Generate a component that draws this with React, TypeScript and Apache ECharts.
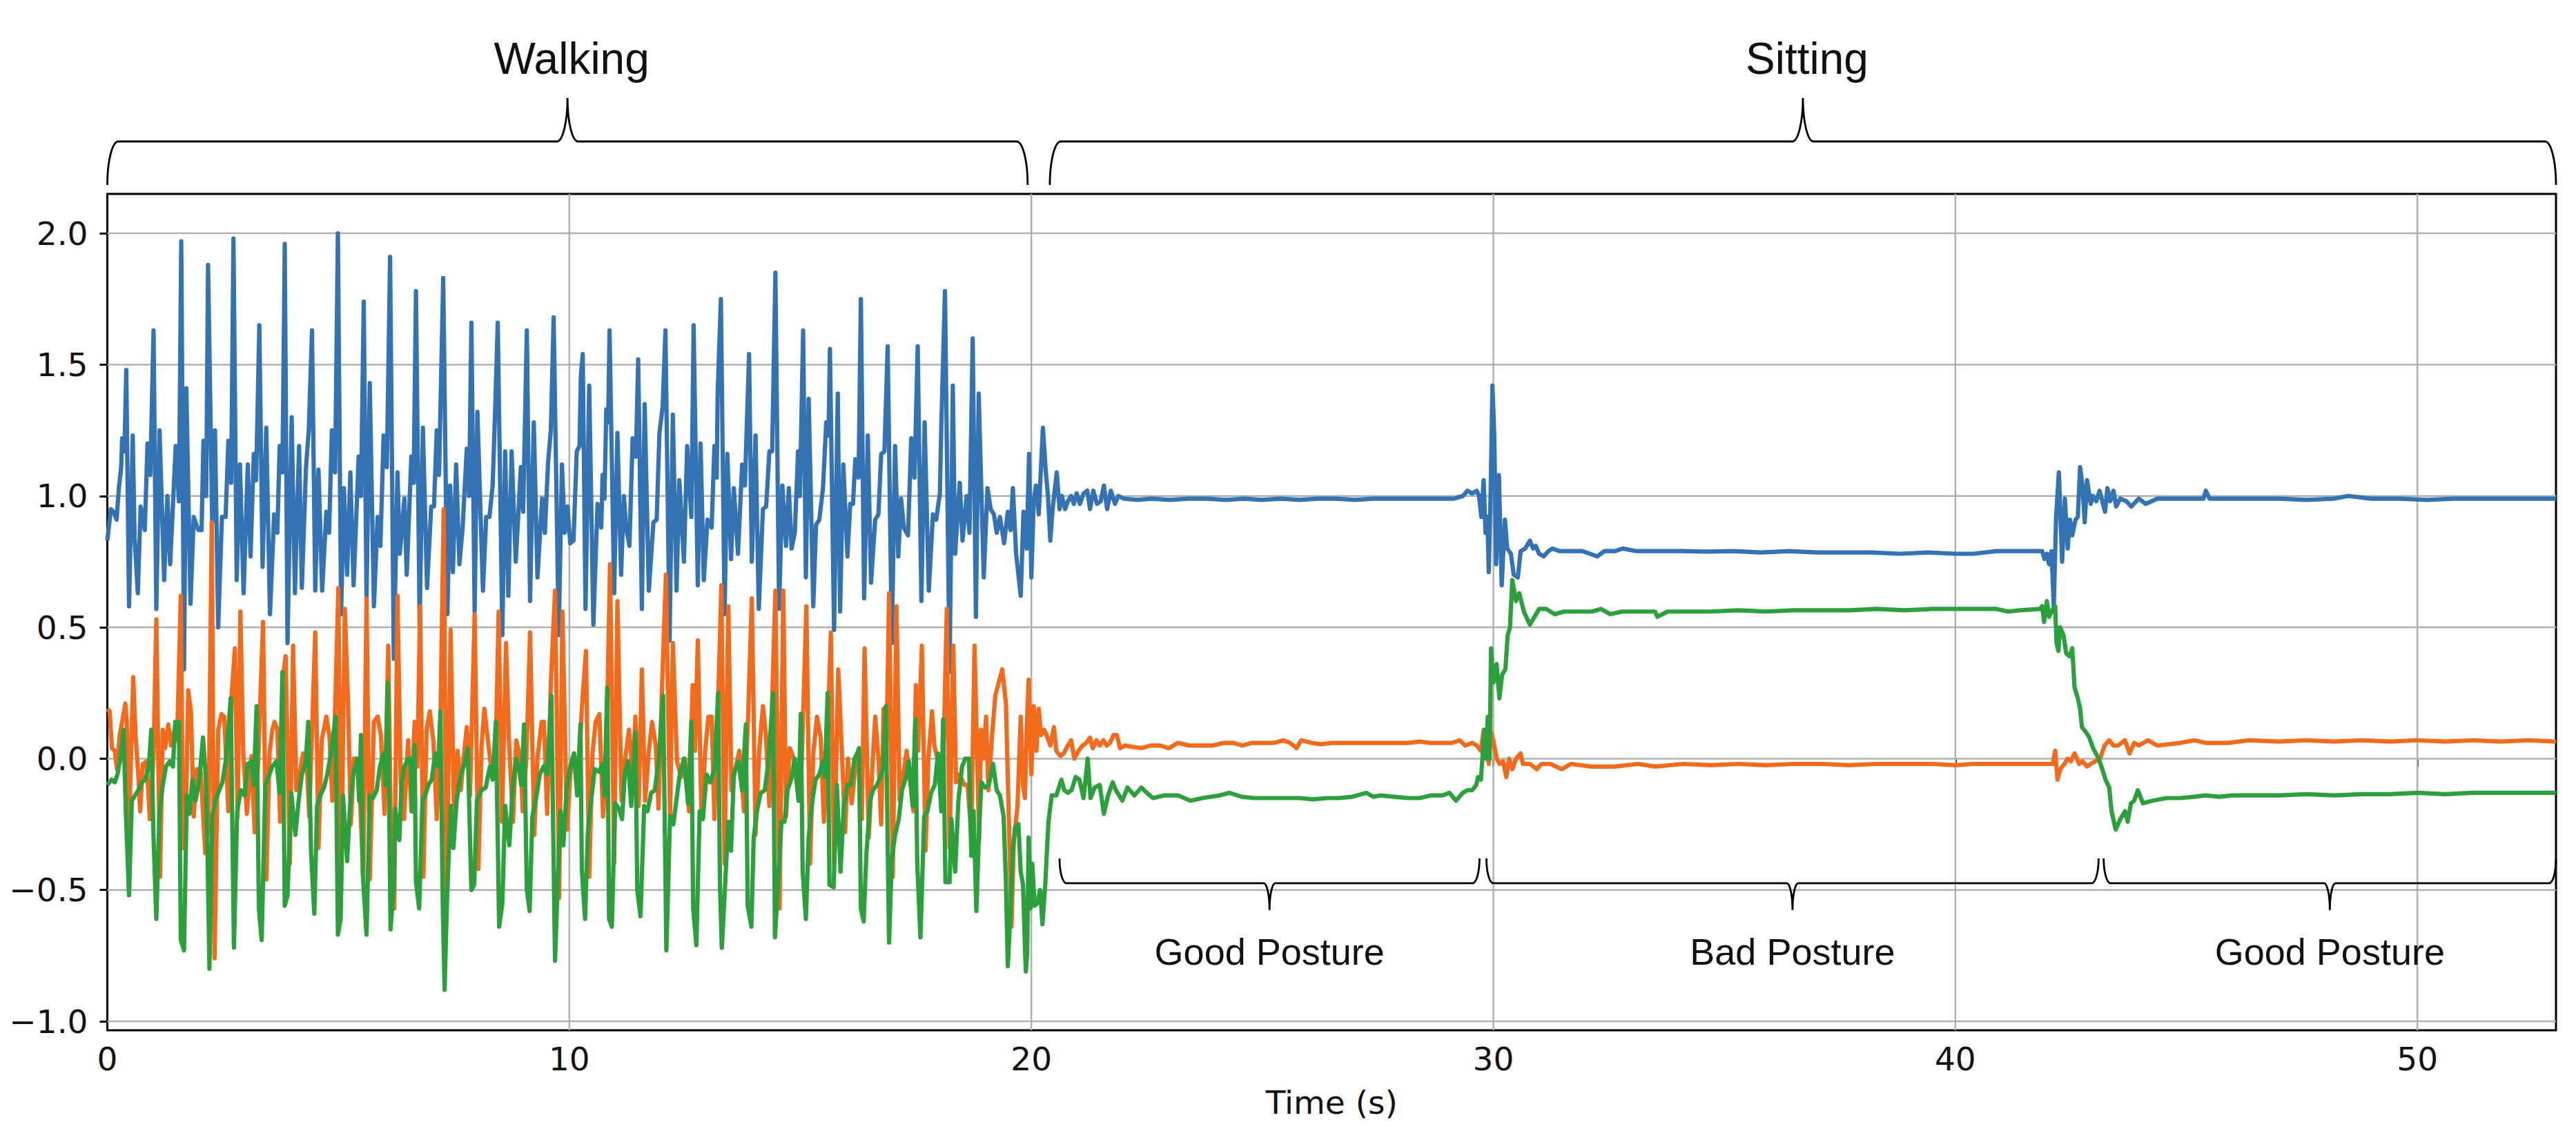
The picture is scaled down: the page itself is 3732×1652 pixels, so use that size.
import React, { useEffect, useRef } from 'react';
import * as echarts from 'echarts';

// ---------- data ----------
const xTicks = [0, 10, 20, 30, 40, 50];
const yTicks = [-1, -0.5, 0, 0.5, 1, 1.5, 2];

const phaseLabels = ['Walking', 'Sitting'];
const phaseStart = [0, 20.4];
const phaseEnd = [19.92, 53];

const postureLabels = ['Good Posture', 'Bad Posture', 'Good Posture'];
const postureStart = [20.61, 29.85, 43.21];
const postureEnd = [29.7, 43.1, 53];

// blue trace [time s, value]
const seriesBlue: number[][] = [
  [0,0.83],[0.075,0.95],[0.135,0.94],[0.2,0.91],[0.25,1.03],[0.3,1.11],[0.32,1.22],[0.37,1.17],[0.41,1.48],[0.47,0.58],
  [0.55,1.23],[0.59,0.84],[0.66,0.63],[0.72,0.96],[0.81,0.87],[0.87,1.2],[0.93,1.08],[1.0,1.63],[1.06,0.57],[1.13,1.25],
  [1.23,0.68],[1.3,1.0],[1.36,0.74],[1.48,1.19],[1.55,0.98],[1.6,1.97],[1.66,0.34],[1.71,1.41],[1.8,0.59],[1.87,0.92],
  [1.97,0.87],[2.04,0.87],[2.08,1.21],[2.14,1.0],[2.18,1.88],[2.27,0.9],[2.33,1.25],[2.4,0.5],[2.48,0.92],[2.56,0.92],
  [2.62,1.21],[2.68,1.05],[2.73,1.98],[2.8,0.68],[2.87,1.12],[2.95,0.63],[3.04,1.12],[3.1,0.77],[3.17,1.16],[3.22,1.06],
  [3.29,1.65],[3.36,0.73],[3.44,1.26],[3.52,0.55],[3.61,0.93],[3.68,0.86],[3.73,1.19],[3.79,1.09],[3.84,1.96],[3.9,0.44],
  [3.99,1.3],[4.06,0.63],[4.15,1.19],[4.21,0.65],[4.3,1.11],[4.36,1.25],[4.43,1.63],[4.5,0.64],[4.57,1.1],[4.65,0.64],
  [4.74,0.94],[4.8,0.86],[4.86,1.25],[4.93,1.09],[4.99,2.0],[5.06,0.55],[5.12,1.03],[5.19,0.7],[5.26,1.09],[5.33,0.66],
  [5.44,1.15],[5.49,1.0],[5.55,1.74],[5.61,0.61],[5.68,1.43],[5.77,0.58],[5.85,0.92],[5.91,0.81],[5.98,1.23],[6.05,1.11],
  [6.12,1.91],[6.2,0.38],[6.28,1.09],[6.33,0.78],[6.43,0.99],[6.48,0.7],[6.58,1.15],[6.63,1.05],[6.68,1.78],[6.76,0.51],
  [6.83,1.26],[6.92,0.65],[7.01,0.96],[7.07,0.96],[7.13,1.25],[7.18,1.08],[7.27,1.83],[7.36,0.55],[7.42,1.04],[7.48,0.71],
  [7.55,1.12],[7.62,0.74],[7.69,0.88],[7.78,1.18],[7.83,1.0],[7.88,1.66],[7.95,0.56],[8.01,1.32],[8.13,0.64],[8.2,0.92],
  [8.27,0.92],[8.34,1.04],[8.4,1.36],[8.45,1.66],[8.55,0.47],[8.61,1.17],[8.68,0.62],[8.75,1.17],[8.84,0.75],[8.95,1.11],
  [9.0,0.94],[9.08,1.63],[9.15,0.6],[9.23,1.28],[9.31,0.69],[9.41,0.99],[9.47,0.86],[9.54,1.13],[9.6,1.25],[9.66,1.68],
  [9.77,0.47],[9.84,1.12],[9.9,0.86],[9.96,0.96],[10.02,0.82],[10.09,0.83],[10.16,1.17],[10.22,1.19],[10.25,1.46],[10.29,1.54],
  [10.35,0.57],[10.43,1.42],[10.52,0.51],[10.61,0.97],[10.69,0.88],[10.72,1.08],[10.76,0.99],[10.8,1.33],[10.84,1.28],[10.87,1.63],
  [10.97,0.63],[11.04,1.24],[11.12,0.7],[11.18,1.0],[11.23,0.88],[11.3,0.81],[11.37,1.22],[11.44,1.15],[11.49,1.52],[11.57,0.57],
  [11.63,1.35],[11.72,0.64],[11.82,0.9],[11.89,0.91],[11.95,1.24],[12.02,1.34],[12.08,1.63],[12.17,0.45],[12.24,1.31],[12.32,0.64],
  [12.38,1.06],[12.48,0.75],[12.55,1.19],[12.64,0.92],[12.69,1.65],[12.78,0.66],[12.84,1.2],[12.91,0.68],[12.99,0.91],[13.08,0.88],
  [13.14,1.19],[13.19,1.07],[13.21,1.39],[13.28,1.75],[13.36,0.55],[13.42,1.16],[13.5,0.76],[13.56,1.03],[13.65,0.78],[13.74,1.12],
  [13.8,1.04],[13.89,1.54],[13.95,0.75],[14.03,1.23],[14.1,0.57],[14.19,0.95],[14.26,0.96],[14.33,1.17],[14.39,1.17],[14.46,1.85],
  [14.54,0.57],[14.61,1.04],[14.69,0.81],[14.75,1.03],[14.81,0.8],[14.88,0.86],[14.95,1.17],[14.99,1.0],[15.06,1.63],[15.12,0.69],
  [15.18,1.37],[15.28,0.58],[15.34,0.89],[15.41,0.91],[15.49,1.03],[15.56,1.28],[15.61,1.23],[15.64,1.56],[15.73,0.49],[15.81,1.39],
  [15.86,0.56],[15.93,1.12],[16.02,0.77],[16.08,0.97],[16.14,0.97],[16.19,1.14],[16.26,1.07],[16.31,1.75],[16.38,0.61],[16.46,1.23],
  [16.53,0.67],[16.62,0.91],[16.69,0.93],[16.75,1.16],[16.82,1.17],[16.89,1.57],[16.98,0.44],[17.05,1.19],[17.12,0.77],[17.18,0.99],
  [17.24,0.88],[17.33,0.85],[17.4,1.22],[17.47,1.07],[17.54,1.57],[17.62,0.6],[17.69,1.28],[17.78,0.64],[17.87,0.93],[17.94,0.91],
  [18.02,1.01],[18.05,1.26],[18.13,1.78],[18.23,0.33],[18.3,1.42],[18.35,0.78],[18.45,1.05],[18.51,0.83],[18.6,1.0],[18.66,0.86],
  [18.73,1.6],[18.8,0.54],[18.86,1.39],[18.97,0.69],[19.05,1.03],[19.12,0.95],[19.19,0.93],[19.25,0.86],[19.32,0.92],[19.41,0.82],
  [19.49,0.94],[19.55,0.87],[19.6,1.03],[19.67,0.78],[19.77,0.62],[19.83,0.94],[19.9,0.8],[19.95,1.16],[20.0,0.69],[20.05,0.98],
  [20.1,1.04],[20.16,0.93],[20.25,1.26],[20.31,1.1],[20.36,1.0],[20.41,0.83],[20.46,0.95],[20.55,1.09],[20.61,0.95],[20.66,1.0],
  [20.73,0.95],[20.79,0.98],[20.86,1.0],[20.92,0.97],[20.98,1.01],[21.05,0.97],[21.13,1.01],[21.21,1.02],[21.27,0.95],[21.34,1.02],
  [21.42,0.97],[21.5,0.98],[21.57,1.04],[21.64,0.95],[21.72,1.02],[21.81,0.97],[21.88,1.0],[22.0,0.99],[22.3,0.985],[22.6,0.99],
  [23.0,0.985],[23.4,0.99],[23.8,0.99],[24.2,0.985],[24.6,0.99],[25.0,0.985],[25.4,0.99],[25.8,0.985],[26.2,0.99],[26.6,0.99],
  [27.0,0.985],[27.4,0.99],[27.8,0.99],[28.2,0.99],[28.6,0.99],[29.0,0.99],[29.15,0.99],[29.34,1.0],[29.44,1.02],[29.54,1.01],
  [29.64,1.02],[29.69,1.0],[29.74,0.92],[29.79,1.06],[29.83,0.86],[29.87,0.92],[29.9,0.71],[29.94,1.0],[29.98,1.42],[30.02,1.23],
  [30.06,0.74],[30.12,1.08],[30.18,0.66],[30.25,0.91],[30.3,0.8],[30.38,0.78],[30.44,0.7],[30.53,0.69],[30.59,0.79],[30.69,0.8],
  [30.79,0.83],[30.86,0.8],[30.92,0.81],[30.99,0.78],[31.09,0.77],[31.19,0.79],[31.28,0.8],[31.43,0.79],[31.63,0.79],[31.93,0.79],
  [32.25,0.77],[32.4,0.79],[32.63,0.79],[32.8,0.8],[33.1,0.79],[33.5,0.79],[34.1,0.79],[34.6,0.788],[35.2,0.79],[35.8,0.785],
  [36.4,0.79],[37.0,0.785],[37.6,0.785],[38.2,0.785],[38.8,0.78],[39.4,0.785],[40.0,0.78],[40.39,0.78],[40.89,0.79],[41.39,0.79],
  [41.88,0.79],[41.93,0.76],[41.98,0.78],[42.03,0.74],[42.08,0.79],[42.13,0.58],[42.18,0.92],[42.24,1.09],[42.31,0.75],[42.37,0.99],
  [42.43,0.8],[42.48,0.91],[42.53,0.85],[42.6,0.91],[42.65,0.92],[42.7,1.11],[42.75,1.04],[42.8,0.9],[42.85,1.06],[42.93,0.97],
  [42.98,1.0],[43.05,0.98],[43.12,1.02],[43.18,0.98],[43.24,0.94],[43.29,1.03],[43.35,0.98],[43.42,1.02],[43.48,0.96],[43.57,0.99],
  [43.7,0.98],[43.81,0.96],[43.97,0.99],[44.12,0.97],[44.37,0.99],[44.87,0.99],[45.37,0.99],[45.42,1.02],[45.5,0.99],[46.36,0.99],
  [47.0,0.99],[47.6,0.985],[48.2,0.99],[48.5,1.0],[49.0,0.99],[49.6,0.99],[50.2,0.985],[50.8,0.99],[51.4,0.99],[52.0,0.99],
  [52.6,0.99],[53.0,0.99]
];

// orange trace
const seriesOrange: number[][] = [
  [0,0.19],[0.05,0.18],[0.1,0.04],[0.16,0.03],[0.21,-0.04],[0.26,0.08],[0.32,0.14],[0.39,0.21],[0.42,0.14],[0.47,-0.26],
  [0.56,0.31],[0.61,0.09],[0.67,-0.06],[0.71,-0.2],[0.77,-0.02],[0.85,-0.01],[0.92,-0.23],[1.0,0.01],[1.06,0.53],[1.14,-0.45],
  [1.2,0.11],[1.25,0.04],[1.32,0.13],[1.38,0.05],[1.45,0.11],[1.51,0.07],[1.59,0.62],[1.64,-0.34],[1.7,-0.22],[1.75,0.26],
  [1.81,0.18],[1.87,-0.22],[1.94,-0.04],[2.02,-0.05],[2.12,-0.36],[2.19,-0.26],[2.26,0.9],[2.32,-0.76],[2.4,0.11],[2.47,0.17],
  [2.53,0.16],[2.62,-0.2],[2.69,0.24],[2.76,0.42],[2.82,-0.22],[2.88,0.56],[2.94,0.03],[3.02,-0.21],[3.12,0.01],[3.19,-0.28],
  [3.27,0.01],[3.37,0.52],[3.44,-0.46],[3.51,0.02],[3.57,0.11],[3.62,0.14],[3.68,0.11],[3.74,-0.24],[3.8,0.31],[3.86,0.39],
  [3.95,-0.4],[4.02,0.43],[4.09,-0.12],[4.16,-0.06],[4.24,0.02],[4.31,0.01],[4.37,-0.22],[4.43,0.1],[4.5,0.48],[4.57,-0.34],
  [4.64,0.07],[4.74,0.16],[4.81,0.08],[4.87,-0.16],[4.93,0.19],[5.0,0.65],[5.06,-0.47],[5.14,0.57],[5.21,0.21],[5.27,-0.25],
  [5.34,0.0],[5.4,0.0],[5.47,-0.16],[5.54,-0.45],[5.61,0.61],[5.68,-0.46],[5.77,0.14],[5.85,0.16],[5.92,0.09],[6.0,-0.21],
  [6.08,0.43],[6.14,-0.3],[6.21,-0.57],[6.28,0.62],[6.35,-0.09],[6.42,-0.23],[6.51,0.07],[6.58,-0.2],[6.65,0.14],[6.71,-0.03],
  [6.77,0.58],[6.84,-0.45],[6.91,0.11],[6.98,0.18],[7.06,0.06],[7.13,-0.23],[7.21,0.15],[7.28,0.95],[7.34,-0.54],[7.43,0.49],
  [7.51,-0.27],[7.58,0.03],[7.65,-0.12],[7.71,0.0],[7.78,0.12],[7.85,-0.14],[7.95,0.55],[8.03,-0.42],[8.1,0.05],[8.16,0.19],
  [8.25,0.05],[8.33,-0.07],[8.4,-0.02],[8.47,0.56],[8.54,-0.24],[8.63,0.44],[8.69,0.08],[8.78,-0.24],[8.85,0.07],[8.94,0.0],
  [8.99,-0.2],[9.07,0.0],[9.15,0.48],[9.24,-0.29],[9.31,0.0],[9.4,0.14],[9.45,0.14],[9.52,-0.21],[9.6,0.29],[9.69,0.64],
  [9.78,-0.53],[9.85,0.56],[9.95,-0.27],[10.02,-0.06],[10.1,0.02],[10.2,-0.06],[10.27,0.19],[10.36,0.41],[10.43,-0.45],[10.5,0.02],
  [10.57,0.14],[10.65,0.17],[10.73,-0.22],[10.8,0.0],[10.88,0.74],[10.97,-0.4],[11.04,0.6],[11.13,-0.16],[11.2,-0.01],[11.29,0.11],
  [11.37,-0.06],[11.43,0.16],[11.5,-0.18],[11.57,0.34],[11.64,-0.16],[11.72,0.03],[11.79,0.14],[11.87,0.05],[11.93,-0.19],[12.0,0.24],
  [12.09,0.7],[12.18,-0.22],[12.24,0.44],[12.33,-0.01],[12.42,-0.07],[12.5,0.0],[12.59,-0.2],[12.67,0.28],[12.72,0.03],[12.78,0.45],
  [12.86,-0.22],[12.94,0.03],[13.01,0.16],[13.08,0.16],[13.14,-0.23],[13.21,0.14],[13.29,0.66],[13.36,-0.4],[13.44,0.58],[13.51,-0.12],
  [13.59,-0.04],[13.68,0.03],[13.78,-0.2],[13.86,0.11],[13.95,0.61],[14.03,-0.29],[14.11,0.03],[14.19,0.2],[14.25,0.1],[14.33,-0.18],
  [14.39,0.22],[14.46,0.64],[14.55,-0.57],[14.63,0.64],[14.69,-0.22],[14.77,0.04],[14.86,0.0],[14.95,-0.14],[15.03,-0.01],[15.13,0.58],
  [15.21,-0.4],[15.28,0.02],[15.36,0.16],[15.44,0.08],[15.51,-0.24],[15.58,0.02],[15.66,0.48],[15.73,-0.4],[15.82,0.34],[15.89,0.06],
  [15.97,-0.28],[16.03,0.0],[16.11,-0.17],[16.19,-0.04],[16.26,0.03],[16.33,-0.23],[16.39,0.42],[16.48,-0.3],[16.56,-0.03],[16.62,0.16],
  [16.69,0.0],[16.75,-0.25],[16.8,0.19],[16.86,-0.01],[16.92,0.63],[17.0,-0.45],[17.08,0.58],[17.15,-0.16],[17.23,-0.06],[17.3,0.03],
  [17.38,-0.09],[17.45,-0.2],[17.5,0.28],[17.55,0.03],[17.63,0.43],[17.71,-0.35],[17.77,0.0],[17.85,0.18],[17.9,0.05],[17.98,-0.01],
  [18.07,-0.2],[18.17,0.57],[18.23,-0.34],[18.31,0.43],[18.37,-0.09],[18.45,-0.06],[18.55,-0.1],[18.62,-0.1],[18.7,-0.29],[18.77,0.43],
  [18.87,-0.31],[18.91,0.11],[18.96,0.0],[19.02,0.16],[19.07,-0.12],[19.15,0.09],[19.22,0.24],[19.28,0.28],[19.37,0.34],[19.45,0.21],
  [19.52,-0.28],[19.57,-0.64],[19.62,-0.32],[19.7,-0.18],[19.77,0.16],[19.82,-0.1],[19.86,-0.15],[19.9,0.11],[19.94,0.3],[20.0,-0.06],
  [20.05,0.2],[20.11,0.03],[20.16,0.19],[20.21,0.09],[20.28,0.11],[20.35,0.08],[20.41,0.05],[20.49,0.12],[20.54,0.03],[20.63,0.01],
  [20.7,0.02],[20.79,0.05],[20.86,0.07],[20.93,0.0],[21.02,0.03],[21.11,0.05],[21.19,0.06],[21.27,0.08],[21.33,0.04],[21.41,0.07],
  [21.48,0.05],[21.56,0.07],[21.63,0.05],[21.7,0.06],[21.78,0.09],[21.85,0.09],[21.92,0.04],[22.03,0.05],[22.18,0.045],[22.38,0.04],
  [22.58,0.05],[22.78,0.05],[22.98,0.04],[23.17,0.06],[23.42,0.05],[23.67,0.05],[23.92,0.05],[24.17,0.06],[24.37,0.06],[24.57,0.05],
  [24.77,0.06],[25.0,0.06],[25.25,0.06],[25.46,0.07],[25.6,0.06],[25.74,0.04],[25.84,0.07],[26.07,0.06],[26.26,0.055],[26.5,0.06],
  [26.75,0.06],[27.0,0.06],[27.25,0.06],[27.55,0.06],[27.9,0.06],[28.15,0.06],[28.4,0.065],[28.65,0.06],[28.9,0.06],[29.1,0.06],
  [29.27,0.07],[29.39,0.05],[29.54,0.06],[29.64,0.05],[29.73,0.03],[29.79,0.11],[29.84,0.05],[29.9,-0.02],[29.95,0.1],[30.0,0.07],
  [30.07,0.0],[30.14,-0.02],[30.21,-0.01],[30.28,-0.07],[30.34,0.0],[30.41,-0.04],[30.49,0.0],[30.59,0.02],[30.64,-0.02],[30.79,-0.02],
  [30.94,-0.04],[31.04,-0.02],[31.23,-0.02],[31.48,-0.04],[31.68,-0.02],[32.13,-0.03],[32.63,-0.03],[33.13,-0.02],[33.5,-0.03],[34.12,-0.02],
  [34.7,-0.025],[35.3,-0.02],[35.9,-0.025],[36.5,-0.02],[37.1,-0.02],[37.7,-0.025],[38.3,-0.02],[38.9,-0.02],[39.5,-0.02],[40.0,-0.025],
  [40.39,-0.02],[40.89,-0.02],[41.39,-0.02],[41.88,-0.02],[42.11,-0.02],[42.16,0.03],[42.21,-0.08],[42.27,-0.04],[42.36,-0.02],[42.43,0.0],
  [42.5,-0.01],[42.58,0.02],[42.68,-0.02],[42.75,-0.01],[42.85,-0.03],[42.93,-0.02],[43.03,-0.01],[43.13,0.0],[43.23,0.05],[43.33,0.07],
  [43.42,0.05],[43.52,0.05],[43.67,0.07],[43.77,0.02],[43.87,0.06],[43.97,0.05],[44.17,0.07],[44.37,0.05],[44.62,0.055],[44.87,0.06],
  [45.17,0.07],[45.42,0.06],[45.9,0.06],[46.36,0.07],[47.0,0.065],[47.6,0.07],[48.2,0.065],[48.8,0.07],[49.4,0.065],[50.0,0.07],
  [50.6,0.065],[51.2,0.07],[51.8,0.065],[52.4,0.07],[53.0,0.065]
];

// green trace
const seriesGreen: number[][] = [
  [0,-0.1],[0.09,-0.08],[0.16,-0.09],[0.22,-0.06],[0.28,0.0],[0.35,0.11],[0.4,-0.2],[0.47,-0.52],[0.53,-0.16],[0.6,-0.14],
  [0.67,-0.12],[0.75,-0.09],[0.82,-0.08],[0.9,-0.03],[0.95,0.11],[1.0,-0.3],[1.06,-0.61],[1.13,-0.2],[1.2,-0.1],[1.27,-0.03],
  [1.35,-0.01],[1.42,-0.03],[1.47,0.14],[1.55,0.14],[1.59,-0.69],[1.66,-0.73],[1.72,-0.14],[1.78,-0.21],[1.84,-0.08],[1.91,-0.16],
  [1.99,-0.08],[2.07,0.08],[2.13,-0.07],[2.17,-0.37],[2.21,-0.8],[2.27,-0.22],[2.34,-0.16],[2.42,-0.12],[2.49,-0.09],[2.57,0.0],
  [2.67,0.23],[2.74,-0.72],[2.81,-0.2],[2.89,-0.12],[2.97,-0.14],[3.04,-0.02],[3.12,-0.01],[3.17,-0.1],[3.23,0.2],[3.28,-0.57],
  [3.34,-0.69],[3.42,-0.1],[3.49,-0.07],[3.57,-0.03],[3.66,-0.01],[3.73,-0.13],[3.79,0.33],[3.84,-0.56],[3.9,-0.52],[3.98,-0.13],
  [4.07,-0.29],[4.14,-0.16],[4.21,-0.06],[4.29,-0.02],[4.35,0.14],[4.41,-0.36],[4.48,-0.59],[4.54,-0.18],[4.61,-0.14],[4.69,-0.11],
  [4.76,-0.06],[4.84,0.02],[4.94,0.16],[4.99,-0.67],[5.05,-0.61],[5.1,-0.14],[5.19,-0.39],[5.25,-0.19],[5.32,-0.06],[5.41,0.0],
  [5.45,-0.16],[5.49,0.09],[5.53,-0.44],[5.61,-0.67],[5.68,-0.14],[5.75,-0.15],[5.83,-0.12],[5.9,-0.03],[5.98,0.02],[6.02,-0.1],
  [6.07,0.29],[6.13,-0.65],[6.2,-0.48],[6.23,-0.19],[6.32,-0.31],[6.37,-0.09],[6.43,-0.03],[6.51,0.0],[6.56,0.0],[6.6,-0.2],
  [6.65,0.05],[6.68,-0.47],[6.75,-0.57],[6.82,-0.16],[6.88,-0.14],[6.95,-0.1],[7.02,-0.08],[7.1,0.02],[7.16,-0.03],[7.21,0.18],
  [7.26,-0.56],[7.3,-0.88],[7.35,-0.55],[7.43,-0.18],[7.49,-0.34],[7.56,-0.16],[7.64,-0.07],[7.73,-0.02],[7.8,0.04],[7.88,-0.5],
  [7.94,-0.48],[8.0,-0.16],[8.1,-0.12],[8.19,-0.11],[8.28,-0.03],[8.34,-0.08],[8.41,0.14],[8.48,-0.64],[8.55,-0.55],[8.61,-0.18],
  [8.7,-0.33],[8.78,-0.1],[8.85,0.0],[8.91,-0.04],[8.96,-0.1],[9.02,0.13],[9.08,-0.5],[9.14,-0.58],[9.2,-0.22],[9.29,-0.14],
  [9.36,-0.06],[9.44,-0.03],[9.52,-0.06],[9.61,0.24],[9.69,-0.77],[9.75,-0.47],[9.81,-0.2],[9.87,-0.33],[9.94,-0.12],[10.02,-0.03],
  [10.1,0.02],[10.17,-0.14],[10.24,0.13],[10.27,-0.42],[10.34,-0.61],[10.4,-0.28],[10.47,-0.16],[10.55,-0.04],[10.64,-0.05],[10.72,-0.02],
  [10.76,-0.14],[10.82,0.27],[10.86,-0.61],[10.92,-0.64],[10.99,-0.17],[11.07,-0.19],[11.14,-0.23],[11.2,-0.06],[11.27,-0.01],[11.34,-0.18],
  [11.43,0.1],[11.47,-0.5],[11.54,-0.6],[11.62,-0.18],[11.69,-0.2],[11.77,-0.13],[11.85,-0.12],[11.93,-0.01],[12.03,0.24],[12.1,-0.73],
  [12.18,-0.22],[12.25,-0.25],[12.33,-0.14],[12.39,-0.06],[12.48,0.0],[12.57,-0.17],[12.64,0.14],[12.68,-0.57],[12.75,-0.71],[12.82,-0.2],
  [12.89,-0.23],[12.97,-0.06],[13.05,-0.09],[13.14,-0.04],[13.22,0.25],[13.26,-0.48],[13.3,-0.72],[13.36,-0.52],[13.44,-0.24],[13.5,-0.35],
  [13.56,-0.06],[13.66,-0.01],[13.74,-0.12],[13.82,0.13],[13.86,-0.56],[13.94,-0.64],[13.99,-0.3],[14.06,-0.2],[14.14,-0.13],[14.23,-0.12],
  [14.31,-0.01],[14.41,0.25],[14.45,-0.68],[14.51,-0.5],[14.59,-0.24],[14.66,-0.24],[14.72,-0.12],[14.8,-0.08],[14.88,0.0],[14.96,-0.16],
  [15.01,0.17],[15.05,-0.43],[15.12,-0.61],[15.18,-0.3],[15.26,-0.16],[15.33,-0.08],[15.41,-0.06],[15.49,-0.01],[15.53,-0.07],[15.59,0.25],
  [15.63,-0.48],[15.72,-0.49],[15.79,-0.1],[15.87,-0.43],[15.94,-0.18],[16.02,-0.1],[16.1,-0.1],[16.17,0.0],[16.23,0.02],[16.27,0.04],
  [16.31,-0.57],[16.37,-0.62],[16.43,-0.36],[16.51,-0.16],[16.57,-0.12],[16.66,-0.1],[16.73,-0.07],[16.79,-0.04],[16.85,0.2],[16.92,-0.7],
  [16.98,-0.38],[17.05,-0.29],[17.13,-0.23],[17.2,-0.12],[17.29,-0.07],[17.35,-0.01],[17.43,-0.18],[17.49,0.15],[17.53,-0.4],[17.6,-0.68],
  [17.68,-0.22],[17.75,-0.2],[17.83,-0.13],[17.91,-0.1],[17.98,0.02],[18.05,-0.2],[18.09,0.15],[18.14,-0.47],[18.23,-0.47],[18.27,-0.23],
  [18.35,-0.43],[18.42,-0.16],[18.5,-0.03],[18.57,0.0],[18.65,0.0],[18.7,-0.37],[18.75,-0.2],[18.81,-0.58],[18.87,-0.26],[18.92,-0.09],
  [19.0,-0.11],[19.08,-0.1],[19.17,-0.02],[19.25,-0.12],[19.32,-0.14],[19.4,-0.22],[19.45,-0.47],[19.49,-0.79],[19.55,-0.58],[19.6,-0.34],
  [19.65,-0.26],[19.72,-0.25],[19.77,-0.43],[19.82,-0.48],[19.86,-0.71],[19.88,-0.81],[19.91,-0.74],[19.94,-0.3],[19.98,-0.57],[20.02,-0.4],
  [20.07,-0.56],[20.13,-0.55],[20.19,-0.5],[20.24,-0.63],[20.3,-0.48],[20.37,-0.24],[20.44,-0.14],[20.54,-0.14],[20.65,-0.08],[20.71,-0.12],
  [20.79,-0.13],[20.87,-0.12],[20.96,-0.07],[21.04,-0.08],[21.13,-0.15],[21.22,0.0],[21.28,-0.15],[21.37,-0.11],[21.48,-0.1],[21.57,-0.21],
  [21.66,-0.14],[21.76,-0.09],[21.83,-0.12],[21.97,-0.16],[22.08,-0.11],[22.23,-0.14],[22.38,-0.11],[22.5,-0.13],[22.63,-0.15],[22.87,-0.14],
  [23.17,-0.14],[23.45,-0.16],[23.7,-0.15],[24.07,-0.14],[24.29,-0.13],[24.55,-0.145],[24.81,-0.15],[25.15,-0.15],[25.46,-0.15],[25.8,-0.15],
  [26.1,-0.155],[26.4,-0.15],[26.66,-0.15],[26.95,-0.145],[27.25,-0.13],[27.4,-0.145],[27.55,-0.14],[27.85,-0.145],[28.15,-0.15],[28.4,-0.15],
  [28.65,-0.14],[28.9,-0.14],[29.05,-0.13],[29.19,-0.16],[29.34,-0.13],[29.44,-0.12],[29.54,-0.12],[29.63,-0.1],[29.67,-0.07],[29.73,-0.08],
  [29.77,0.02],[29.81,0.11],[29.84,0.0],[29.88,0.16],[29.92,0.0],[29.95,0.42],[30.0,0.29],[30.07,0.36],[30.13,0.23],[30.19,0.32],
  [30.26,0.34],[30.31,0.47],[30.36,0.5],[30.41,0.68],[30.49,0.6],[30.56,0.63],[30.66,0.56],[30.79,0.51],[30.89,0.54],[30.99,0.57],
  [31.14,0.57],[31.33,0.55],[31.53,0.56],[31.83,0.56],[32.13,0.56],[32.33,0.57],[32.53,0.55],[32.78,0.56],[33.13,0.56],[33.5,0.56],
  [33.55,0.54],[33.77,0.56],[34.12,0.56],[34.7,0.56],[35.3,0.565],[35.9,0.56],[36.5,0.565],[37.1,0.565],[37.7,0.565],[38.3,0.57],
  [38.9,0.565],[39.5,0.57],[40.0,0.57],[40.39,0.57],[40.89,0.57],[41.14,0.56],[41.39,0.565],[41.83,0.57],[41.88,0.58],[41.92,0.52],
  [41.98,0.6],[42.03,0.54],[42.11,0.57],[42.16,0.58],[42.19,0.44],[42.23,0.41],[42.27,0.5],[42.34,0.47],[42.4,0.4],[42.47,0.39],
  [42.53,0.42],[42.58,0.27],[42.65,0.23],[42.7,0.19],[42.74,0.12],[42.83,0.1],[42.9,0.08],[42.98,0.04],[43.1,0.0],[43.18,-0.04],
  [43.25,-0.08],[43.33,-0.11],[43.38,-0.2],[43.47,-0.27],[43.57,-0.23],[43.67,-0.2],[43.73,-0.24],[43.8,-0.17],[43.87,-0.16],[43.95,-0.12],
  [44.06,-0.17],[44.27,-0.16],[44.57,-0.15],[44.87,-0.15],[45.17,-0.145],[45.42,-0.14],[45.7,-0.145],[46.0,-0.14],[46.36,-0.14],[47.0,-0.14],
  [47.6,-0.135],[48.2,-0.14],[48.8,-0.135],[49.4,-0.135],[50.0,-0.13],[50.6,-0.135],[51.2,-0.13],[51.8,-0.13],[52.4,-0.13],[53.0,-0.13]
];

// ---------- styles ----------
const COLORS = ['#3373b3', '#f26a1b', '#2ca03c'];
const TICK_FONT = 'DejaVu Sans';
const NOTE_FONT = 'Liberation Sans';
const TEXT_COLOR = '#111111';
const GRID_COLOR = '#b0b0b0';

function bracePath(xL: number, xR: number, yEnd: number, yH: number, yTip: number, wEnd: number, wTip: number) {
  const k = 0.5523;
  const xM = (xL + xR) / 2;
  const he = yEnd - yH;
  const ht = yH - yTip;
  return [
    `M${xL},${yEnd}`,
    `C${xL},${yEnd - k * he} ${xL + wEnd - k * wEnd},${yH} ${xL + wEnd},${yH}`,
    `L${xM - wTip},${yH}`,
    `C${xM - wTip + k * wTip},${yH} ${xM},${yTip + k * ht} ${xM},${yTip}`,
    `C${xM},${yTip + k * ht} ${xM + wTip - k * wTip},${yH} ${xM + wTip},${yH}`,
    `L${xR - wEnd},${yH}`,
    `C${xR - wEnd + k * wEnd},${yH} ${xR},${yEnd - k * he} ${xR},${yEnd}`,
  ].join(' ');
}

export default function App() {
  const ref = useRef<HTMLDivElement>(null);

  useEffect(() => {
    if (!ref.current) return;
    const chart = echarts.init(ref.current, undefined, { renderer: 'svg' });

    const fmtY = (v: number) => (v < 0 ? '\u2212' : '') + Math.abs(v).toFixed(1);

    const lineSeries = [seriesBlue, seriesOrange, seriesGreen].map((d, i) => ({
      type: 'line',
      data: d,
      showSymbol: false,
      symbol: 'none',
      z: 3 + i,
      lineStyle: { color: COLORS[i], width: 6.2, join: 'round', cap: 'butt' },
      itemStyle: { color: COLORS[i] },
      emphasis: { disabled: true },
      silent: true,
      clip: true,
    }));

    const yGridSeries = {
      type: 'custom',
      silent: true,
      z: 1,
      clip: false,
      data: yTicks.map((v) => [0, v]),
      encode: { x: 0, y: 1 },
      renderItem: (params: any, api: any) => {
        const cs = params.coordSys;
        const y = api.coord([0, api.value(1)])[1];
        return {
          type: 'line',
          shape: { x1: cs.x, y1: y, x2: cs.x + cs.width, y2: y },
          style: { stroke: GRID_COLOR, lineWidth: 2.5 },
        };
      },
    };

    const xGridSeries = {
      type: 'custom',
      silent: true,
      z: 1,
      clip: false,
      data: xTicks.filter((v) => v > 0).map((v) => [v, 0]),
      encode: { x: 0, y: 1 },
      renderItem: (params: any, api: any) => {
        const cs = params.coordSys;
        const x = api.coord([api.value(0), 0])[0];
        return {
          type: 'line',
          shape: { x1: x, y1: cs.y, x2: x, y2: cs.y + cs.height },
          style: { stroke: GRID_COLOR, lineWidth: 2.5 },
        };
      },
    };

    const phaseSeries = {
      type: 'custom',
      silent: true,
      z: 10,
      clip: false,
      data: phaseStart.map((s, i) => [s, phaseEnd[i], 0]),
      encode: { x: [0, 1], y: 2 },
      renderItem: (params: any, api: any) => {
        const cs = params.coordSys;
        const xL = api.coord([api.value(0), 0])[0];
        const xR = api.coord([api.value(1), 0])[0];
        const top = cs.y;
        const label = phaseLabels[params.dataIndex];
        return {
          type: 'group',
          children: [
            {
              type: 'path',
              shape: { pathData: bracePath(xL, xR, top - 13, top - 76, top - 139, 16, 15.5) },
              style: { fill: 'none', stroke: '#000', lineWidth: 2.8 },
            },
            {
              type: 'text',
              style: {
                text: label,
                x: (xL + xR) / 2 + 6,
                y: top - 196,
                textAlign: 'center',
                textVerticalAlign: 'middle',
                align: 'center',
                verticalAlign: 'middle',
                fontFamily: NOTE_FONT,
                fontSize: 64,
                fill: TEXT_COLOR,
              },
            },
          ],
        };
      },
    };

    const postureSeries = {
      type: 'custom',
      silent: true,
      z: 10,
      clip: false,
      data: postureStart.map((s, i) => [s, postureEnd[i], 0]),
      encode: { x: [0, 1], y: 2 },
      renderItem: (params: any, api: any) => {
        const xL = api.coord([api.value(0), 0])[0];
        const xR = api.coord([api.value(1), 0])[0];
        const yEnd = api.coord([0, -0.38])[1];
        const yH = api.coord([0, -0.474])[1];
        const yTip = api.coord([0, -0.576])[1];
        const yText = api.coord([0, -0.735])[1];
        const label = postureLabels[params.dataIndex];
        return {
          type: 'group',
          children: [
            {
              type: 'path',
              shape: { pathData: bracePath(xL, xR, yEnd, yH, yTip, 10, 8.5) },
              style: { fill: 'none', stroke: '#000', lineWidth: 2.8 },
            },
            {
              type: 'text',
              style: {
                text: label,
                x: (xL + xR) / 2,
                y: yText,
                textAlign: 'center',
                textVerticalAlign: 'middle',
                align: 'center',
                verticalAlign: 'middle',
                fontFamily: NOTE_FONT,
                fontSize: 54,
                fill: TEXT_COLOR,
              },
            },
          ],
        };
      },
    };

    chart.setOption({
      animation: false,
      backgroundColor: '#ffffff',
      grid: {
        left: 155.5,
        right: 29,
        top: 281,
        bottom: 159,
        show: true,
        borderColor: '#000',
        borderWidth: 3,
        backgroundColor: 'transparent',
        containLabel: false,
      },
      xAxis: {
        type: 'value',
        min: 0,
        max: 53,
        name: 'Time (s)',
        nameLocation: 'middle',
        nameGap: 81,
        nameTextStyle: { fontFamily: TICK_FONT, fontSize: 47, color: TEXT_COLOR },
        axisLine: { show: false },
        splitLine: { show: false },
        axisTick: { show: true, inside: false, length: 11, customValues: xTicks, lineStyle: { color: '#000', width: 3 } },
        axisLabel: {
          show: true,
          customValues: xTicks,
          margin: 18,
          fontFamily: TICK_FONT,
          fontSize: 47,
          color: TEXT_COLOR,
          formatter: (v: number) => String(v),
        },
      },
      yAxis: {
        type: 'value',
        min: -1.034,
        max: 2.15,
        axisLine: { show: false },
        splitLine: { show: false },
        axisTick: { show: true, inside: false, length: 11, customValues: yTicks, lineStyle: { color: '#000', width: 3 } },
        axisLabel: {
          show: true,
          customValues: yTicks,
          margin: 28,
          fontFamily: TICK_FONT,
          fontSize: 47,
          color: TEXT_COLOR,
          formatter: (v: number) => fmtY(v),
        },
      },
      series: [yGridSeries, xGridSeries, ...lineSeries, postureSeries, phaseSeries],
    });

    return () => chart.dispose();
  }, []);

  return (
    <div
      ref={ref}
      style={{ position: 'fixed', left: 0, top: 0, width: 3732, height: 1652, background: '#fff' }}
    />
  );
}
